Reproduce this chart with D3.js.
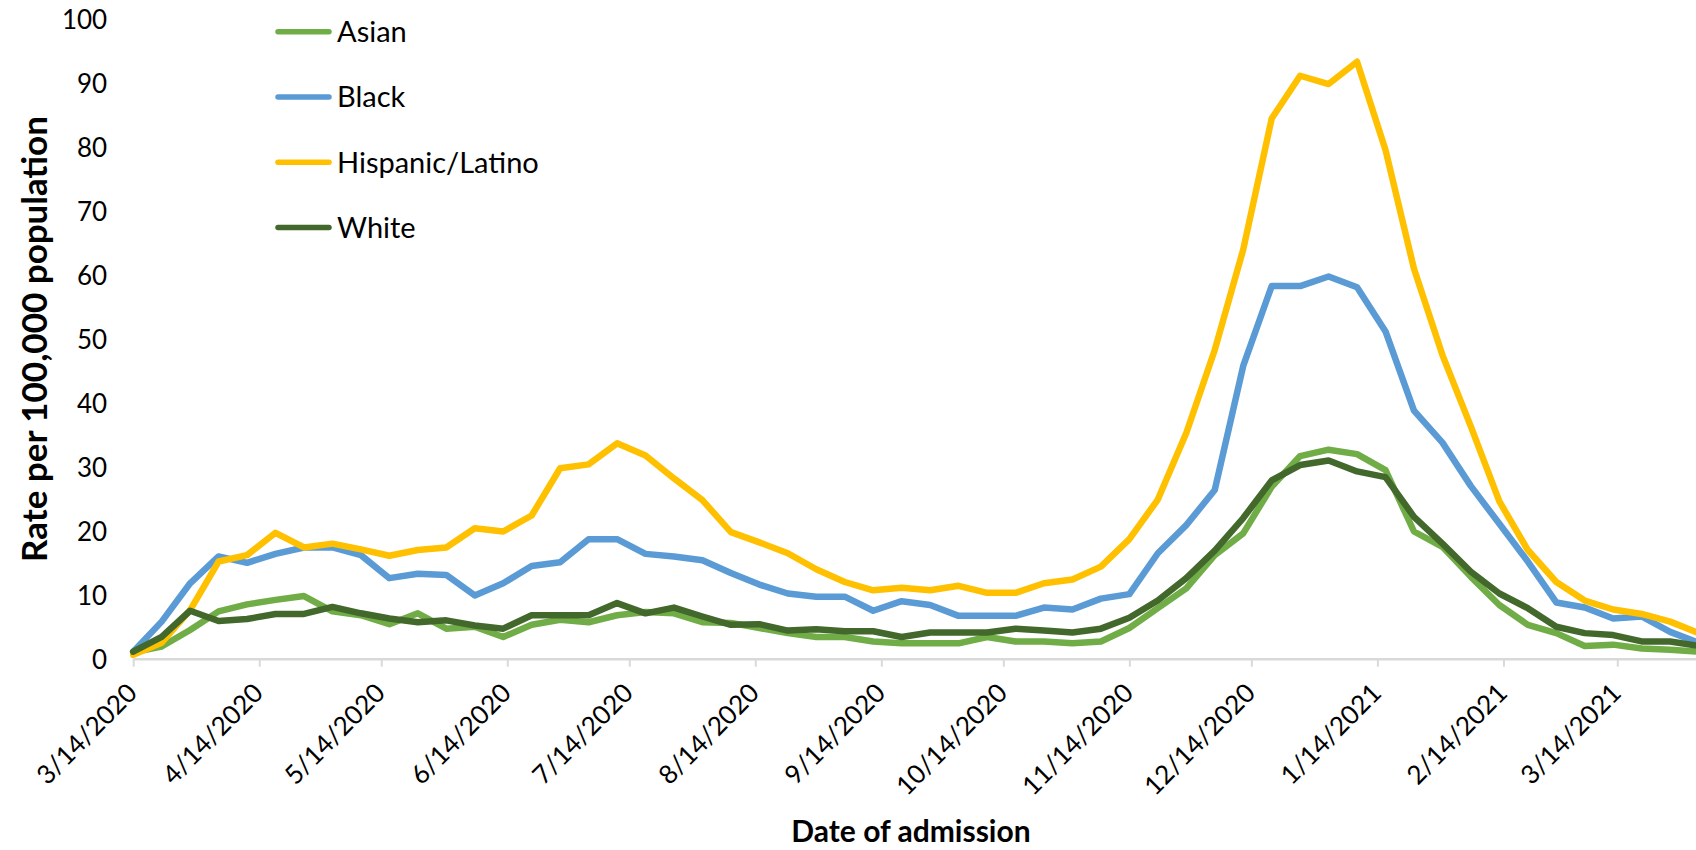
<!DOCTYPE html>
<html>
<head>
<meta charset="utf-8">
<script src="https://cdn.jsdelivr.net/npm/d3@7"></script>
<style>
  body { margin: 0; background: #fff; }
  svg { display: block; background: #fff; }
  text { font-family: Lato, "Open Sans", sans-serif; fill: #000; }
</style>
</head>
<body>
<svg id="chart" width="1696" height="850"></svg>
<script>
// Week-ending dates of admission
const weeks = [
  "2020-03-14","2020-03-21","2020-03-28","2020-04-04","2020-04-11","2020-04-18","2020-04-25",
  "2020-05-02","2020-05-09","2020-05-16","2020-05-23","2020-05-30","2020-06-06","2020-06-13",
  "2020-06-20","2020-06-27","2020-07-04","2020-07-11","2020-07-18","2020-07-25","2020-08-01",
  "2020-08-08","2020-08-15","2020-08-22","2020-08-29","2020-09-05","2020-09-12","2020-09-19",
  "2020-09-26","2020-10-03","2020-10-10","2020-10-17","2020-10-24","2020-10-31","2020-11-07",
  "2020-11-14","2020-11-21","2020-11-28","2020-12-05","2020-12-12","2020-12-19","2020-12-26",
  "2021-01-02","2021-01-09","2021-01-16","2021-01-23","2021-01-30","2021-02-06","2021-02-13",
  "2021-02-20","2021-02-27","2021-03-06","2021-03-13","2021-03-20","2021-03-27","2021-04-03"
];

// Weekly rates per 100,000 population
const asian = [
  1.0, 1.9, 4.5, 7.4, 8.5, 9.2, 9.8, 7.4, 6.8, 5.4, 7.1, 4.7, 5.0, 3.4,
  5.3, 6.1, 5.7, 6.8, 7.3, 7.1, 5.7, 5.6, 4.8, 4.0, 3.4, 3.4, 2.7, 2.4,
  2.4, 2.4, 3.4, 2.7, 2.7, 2.4, 2.7, 4.8, 7.9, 11.0, 16.2, 19.6, 26.9, 31.7,
  32.7, 32.0, 29.5, 19.9, 17.5, 12.8, 8.4, 5.3, 4.0, 2.0, 2.2, 1.6, 1.4, 1.1
];
const black = [
  1.1, 5.8, 11.8, 16.0, 15.0, 16.4, 17.4, 17.4, 16.2, 12.6, 13.3, 13.1, 9.9, 11.8,
  14.5, 15.1, 18.7, 18.7, 16.4, 16.0, 15.4, 13.4, 11.6, 10.2, 9.7, 9.7, 7.5, 9.0,
  8.4, 6.7, 6.7, 6.7, 8.0, 7.7, 9.4, 10.1, 16.5, 20.9, 26.4, 45.8, 58.3, 58.3,
  59.8, 58.1, 51.2, 38.8, 33.8, 27.0, 21.1, 15.2, 8.8, 8.0, 6.3, 6.6, 4.2, 2.5
];
const hispanic = [
  0.6, 2.5, 7.6, 15.2, 16.2, 19.7, 17.4, 18.0, 17.1, 16.1, 17.0, 17.4, 20.4, 19.9,
  22.4, 29.8, 30.4, 33.7, 31.8, 28.2, 24.8, 19.8, 18.2, 16.5, 14.0, 12.0, 10.7, 11.1,
  10.7, 11.4, 10.3, 10.3, 11.8, 12.4, 14.4, 18.7, 24.9, 35.3, 48.3, 64.0, 84.5, 91.2,
  89.9, 93.4, 79.6, 61.0, 47.5, 36.3, 24.6, 17.0, 12.0, 9.1, 7.7, 7.0, 5.8, 4.0
];
const white = [
  1.1, 3.4, 7.5, 5.9, 6.2, 7.0, 7.0, 8.1, 7.1, 6.3, 5.7, 6.0, 5.2, 4.7,
  6.8, 6.8, 6.8, 8.7, 7.1, 8.0, 6.6, 5.3, 5.4, 4.4, 4.6, 4.3, 4.3, 3.4,
  4.1, 4.1, 4.1, 4.7, 4.4, 4.1, 4.7, 6.4, 9.1, 12.6, 16.9, 22.0, 27.9, 30.3,
  31.0, 29.3, 28.4, 22.2, 18.0, 13.6, 10.2, 7.9, 5.0, 4.0, 3.7, 2.7, 2.7, 2.0
];

const seriesNames  = ["Asian", "Black", "Hispanic/Latino", "White"];
const seriesValues = [asian, black, hispanic, white];
const seriesColors = ["#70AD47", "#5B9BD5", "#FFC000", "#43682B"];

const yTicks = [0, 10, 20, 30, 40, 50, 60, 70, 80, 90, 100];
const xTicks = [
  "2020-03-14","2020-04-14","2020-05-14","2020-06-14","2020-07-14","2020-08-14","2020-09-14",
  "2020-10-14","2020-11-14","2020-12-14","2021-01-14","2021-02-14","2021-03-14"
];

const parse = d3.utcParse("%Y-%m-%d");
const fmt = d3.utcFormat("%-m/%-d/%Y");

const svg = d3.select("#chart");

const x = d3.scaleUtc()
  .domain([parse(weeks[0]), parse(weeks[weeks.length - 1])])
  .range([133.2, 1698.6]);
const y = d3.scaleLinear().domain([0, 100]).range([658.7, 19.5]);

// x axis: light baseline with monthly ticks and slanted date labels
const xAxis = svg.append("g")
  .attr("transform", `translate(0,${y(0)})`)
  .call(d3.axisBottom(x)
    .tickValues(xTicks.map(parse))
    .tickFormat(fmt)
    .tickSize(8)
    .tickSizeOuter(0));
xAxis.select(".domain").attr("stroke", "#d9d9d9").attr("stroke-width", 2.5);
xAxis.selectAll(".tick line").attr("stroke", "#d9d9d9").attr("stroke-width", 2);
xAxis.selectAll(".tick text")
  .attr("x", 0).attr("y", 0).attr("dy", 0)
  .attr("text-anchor", "end")
  .attr("font-size", 26)
  .attr("fill", "#000")
  .attr("transform", "translate(5,36) rotate(-45)");

// y axis: labels only
const yAxis = svg.append("g")
  .attr("transform", "translate(133.2,0)")
  .call(d3.axisLeft(y).tickValues(yTicks).tickSize(0).tickPadding(26));
yAxis.select(".domain").remove();
yAxis.selectAll(".tick text")
  .attr("font-size", 26)
  .attr("fill", "#000")
  .attr("dy", "0.36em");

// series lines
const line = d3.line()
  .x((d, i) => x(parse(weeks[i])))
  .y(d => y(d));

svg.append("g").selectAll("path")
  .data(seriesValues)
  .join("path")
  .attr("d", line)
  .attr("fill", "none")
  .attr("stroke", (d, i) => seriesColors[i])
  .attr("stroke-width", 6.5)
  .attr("stroke-linejoin", "round")
  .attr("stroke-linecap", "round");

// legend
const legend = svg.append("g").selectAll("g")
  .data(seriesNames)
  .join("g")
  .attr("transform", (d, i) => `translate(0,${31.7 + i * 65.3})`);
legend.append("line")
  .attr("x1", 278).attr("x2", 329)
  .attr("y1", 0).attr("y2", 0)
  .attr("stroke", (d, i) => seriesColors[i])
  .attr("stroke-width", 5.5)
  .attr("stroke-linecap", "round");
legend.append("text")
  .attr("x", 337).attr("y", 10.4)
  .attr("font-size", 29)
  .text(d => d);

// axis titles
svg.append("text")
  .attr("transform", "translate(47,339) rotate(-90)")
  .attr("text-anchor", "middle")
  .attr("font-size", 35)
  .attr("font-weight", 700)
  .text("Rate per 100,000 population");

svg.append("text")
  .attr("x", 911).attr("y", 842)
  .attr("text-anchor", "middle")
  .attr("font-size", 30)
  .attr("font-weight", 700)
  .text("Date of admission");
</script>
</body>
</html>
